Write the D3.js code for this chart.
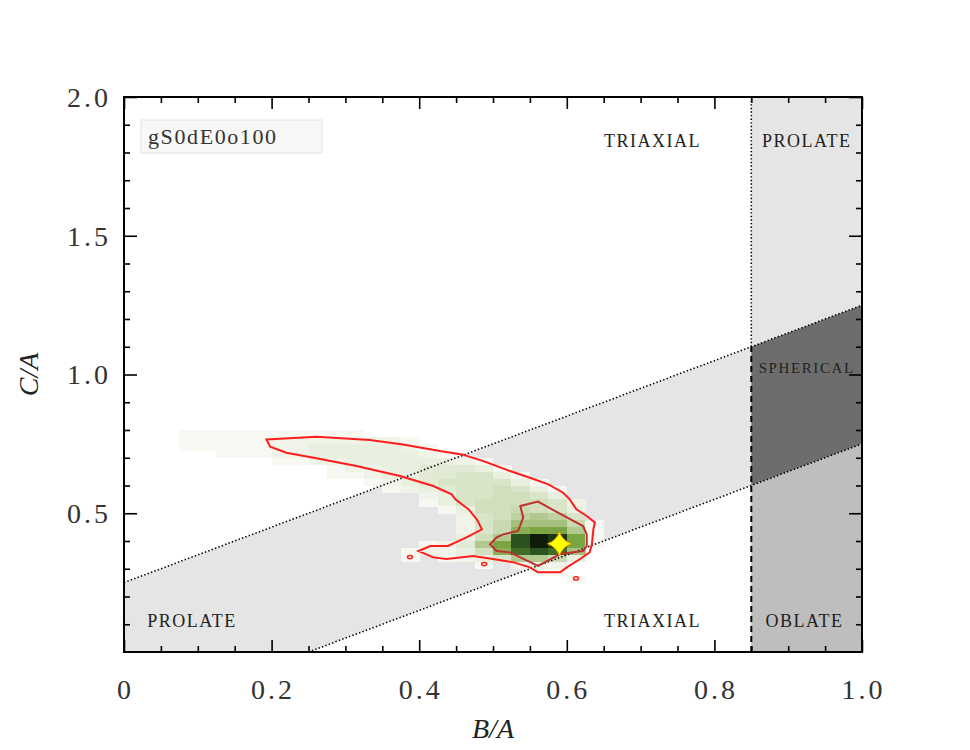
<!DOCTYPE html>
<html>
<head>
<meta charset="utf-8">
<script src="https://cdn.jsdelivr.net/npm/d3@7"></script>
<style>
    body { margin: 0; background: #fff; }
    svg { display: block; }
    .tick-label { font-family: 'Liberation Serif', serif; font-size: 28px; fill: #333; letter-spacing: 3px; }
    .axis-title { font-family: 'Liberation Serif', serif; font-size: 28px; font-style: italic; fill: #222; }
    .region-label { font-family: 'Liberation Serif', serif; fill: #222; }
</style>
</head>
<body>
<svg id="chart"></svg>
<script>
// axis ticks
const xMajorTicks = [0, 0.2, 0.4, 0.6, 0.8, 1.0];
const xTickLabels = ['0', '0.2', '0.4', '0.6', '0.8', '1.0'];
const xMinorTicks = [0.05, 0.1, 0.15, 0.25, 0.3, 0.35, 0.45, 0.5, 0.55, 0.65, 0.7, 0.75, 0.85, 0.9, 0.95];
const yMajorTicks = [0.5, 1.0, 1.5, 2.0];
const yTickLabels = ['0.5', '1.0', '1.5', '2.0'];
const yMinorTicks = [0.1, 0.2, 0.3, 0.4, 0.6, 0.7, 0.8, 0.9, 1.1, 1.2, 1.3, 1.4, 1.6, 1.7, 1.8, 1.9];

// shape classification: C/A = B/A +/- bandOffset, B/A = sphereCut
const bandOffset = 0.25;
const sphereCut = 0.85;

// density map, cells of 0.025 starting at B/A = 0.075 (left) and C/A = 0.8 (top)
const gridX0 = 0.075;
const gridYTop = 0.8;
const gridStep = 0.025;
const densityRows = [
//   0    1    2    3    4    5    6    7    8    9   10   11   12   13   14   15   16   17   18   19   20   21   22
    [1,   1,   1,   1,   1,   1,   1,   1,   1,   1,   0,   0,   0,   0,   0,   0,   0,   0,   0,   0,   0,   0,   0],
    [1,   1,   1,   1,   1,   1.5, 1.5, 1.5, 1.5, 1.5, 1.5, 1.5, 1,   0,   0,   0,   0,   0,   0,   0,   0,   0,   0],
    [1,   1,   1,   1,   1,   1.5, 1.5, 2,   2,   2,   2,   2,   1.5, 1,   0,   0,   0,   0,   0,   0,   0,   0,   0],
    [0,   0,   1,   1,   1,   1.5, 1.5, 2,   2,   2,   2,   2,   2,   1.5, 1,   0,   0,   0,   0,   0,   0,   0,   0],
    [0,   0,   0,   0,   0,   1,   1,   1.5, 1.5, 2,   2,   2,   2,   2,   2,   1.5, 1,   0,   0,   0,   0,   0,   0],
    [0,   0,   0,   0,   0,   0,   0,   0,   1,   1.5, 1.5, 2,   2,   2.5, 2.5, 2.5, 2,   1,   0,   0,   0,   0,   0],
    [0,   0,   0,   0,   0,   0,   0,   0,   1,   1,   1.5, 2,   2,   2.5, 2.5, 3,   3,   2,   1,   0,   0,   0,   0],
    [0,   0,   0,   0,   0,   0,   0,   0,   0,   0,   1,   1.5, 2,   2.5, 3,   3,   3,   3,   2,   1,   0,   0,   0],
    [0,   0,   0,   0,   0,   0,   0,   0,   0,   0,   0,   1,   1.5, 2,   2.5, 3,   3,   3.5, 3,   2,   1,   0,   0],
    [0,   0,   0,   0,   0,   0,   0,   0,   0,   0,   0,   0,   0,   1.5, 2,   3,   3,   3.5, 3.5, 3,   2,   0,   0],
    [0,   0,   0,   0,   0,   0,   0,   0,   0,   0,   0,   0,   0,   1,   2,   3,   3.5, 3.5, 3.5, 3.5, 3,   1.5, 0],
    [0,   0,   0,   0,   0,   0,   0,   0,   0,   0,   0,   0,   0,   0,   1,   2,   3.5, 3.5, 4,   3.5, 3,   2,   0],
    [0,   0,   0,   0,   0,   0,   0,   0,   0,   0,   0,   0,   0,   0,   0,   1.5, 3,   3.5, 4.5, 5,   4.5, 3,   0],
    [0,   0,   0,   0,   0,   0,   0,   0,   0,   0,   0,   0,   0,   0,   0,   1.5, 3,   4,   5.5, 5.5, 5.5, 4,   1],
    [0,   0,   0,   0,   0,   0,   0,   0,   0,   0,   0,   0,   0,   0,   0,   1.5, 3,   4,   6.5, 7,   7,   5,   1],
    [0,   0,   0,   0,   0,   0,   0,   0,   0,   0,   0,   0,   0,   0,   0,   2,   3.5, 5,   9,   10,  9.5, 7,   1],
    [0,   0,   0,   0,   0,   0,   0,   0,   0,   0,   0,   0,   0,   1,   1.5, 2.5, 5,   7,   9,   10,  9.5, 7,   1],
    [0,   0,   0,   0,   0,   0,   0,   0,   0,   0,   0,   0,   1,   1.5, 1.5, 2,   3.5, 6.5, 8.5, 9,   8.5, 5.5, 0],
    [0,   0,   0,   0,   0,   0,   0,   0,   0,   0,   0,   0,   1,   0,   1,   1.5, 2,   3,   5,   5,   4,   2,   0],
    [0,   0,   0,   0,   0,   0,   0,   0,   0,   0,   0,   0,   0,   0,   0,   0,   1,   0,   1.5, 2,   1.5, 0,   0],
    [0,   0,   0,   0,   0,   0,   0,   0,   0,   0,   0,   0,   0,   0,   0,   0,   0,   0,   0,   1,   1,   0,   0],
    [0,   0,   0,   0,   0,   0,   0,   0,   0,   0,   0,   0,   0,   0,   0,   0,   0,   0,   0,   0,   0,   1,   0]
];
const densityLevels = [1, 2, 3, 4, 5, 6, 7, 8, 9, 10];
const densityColors = ['#f6f8f1', '#e9f0df', '#d9e5c9', '#c9d9b1', '#b2c891', '#99b86d', '#7ba443', '#55852d', '#2c5220', '#0f1c0a'];

// contours traced in (B/A, C/A)
const outerContour = [
    [0.193, 0.766], [0.261, 0.776], [0.333, 0.764], [0.378, 0.748], [0.428, 0.724], [0.458, 0.712],
    [0.487, 0.688], [0.523, 0.652], [0.550, 0.628], [0.575, 0.604], [0.595, 0.574], [0.604, 0.550],
    [0.613, 0.514], [0.627, 0.490], [0.638, 0.467], [0.636, 0.442], [0.634, 0.388], [0.631, 0.359],
    [0.618, 0.335], [0.600, 0.305], [0.591, 0.287], [0.561, 0.287], [0.550, 0.305], [0.528, 0.323],
    [0.500, 0.335], [0.473, 0.346], [0.437, 0.335], [0.419, 0.341], [0.399, 0.364], [0.415, 0.382],
    [0.439, 0.382], [0.464, 0.413], [0.485, 0.442], [0.478, 0.478], [0.467, 0.514], [0.449, 0.550],
    [0.444, 0.568], [0.419, 0.598], [0.374, 0.634], [0.315, 0.670], [0.257, 0.700], [0.220, 0.718],
    [0.198, 0.740]
];
const innerContour = [
    [0.537, 0.526], [0.561, 0.542], [0.580, 0.514], [0.600, 0.485], [0.622, 0.454], [0.627, 0.424],
    [0.627, 0.382], [0.622, 0.364], [0.591, 0.353], [0.561, 0.310], [0.523, 0.359], [0.505, 0.364],
    [0.496, 0.388], [0.505, 0.413], [0.514, 0.424], [0.534, 0.436], [0.541, 0.485]
];
const contourSpots = [[0.3875, 0.342], [0.488, 0.317], [0.6125, 0.265]];
const peakPoint = [0.59, 0.39];

const regionLabels = [
    {text: 'TRIAXIAL', bx: 0.715, cy: 1.84, size: 18, spacing: 1.5},
    {text: 'PROLATE', bx: 0.924, cy: 1.84, size: 18, spacing: 1.5},
    {text: 'SPHERICAL', bx: 0.924, cy: 1.025, size: 15, spacing: 1.6},
    {text: 'PROLATE', bx: 0.091, cy: 0.11, size: 18, spacing: 1.5},
    {text: 'TRIAXIAL', bx: 0.715, cy: 0.11, size: 18, spacing: 1.5},
    {text: 'OBLATE', bx: 0.921, cy: 0.11, size: 18, spacing: 1.5}
];
const runName = 'gS0dE0o100';

class ShapePlot {
    constructor(_config) {
        this.config = {
            parentElement: _config.parentElement,
            containerWidth: _config.containerWidth || 970,
            containerHeight: _config.containerHeight || 750,
            margin: {top: 97, right: 108, bottom: 98, left: 124}
        };
        this.initVis();
    }

    initVis() {
        let vis = this;
        vis.width = vis.config.containerWidth - vis.config.margin.left - vis.config.margin.right;
        vis.height = vis.config.containerHeight - vis.config.margin.top - vis.config.margin.bottom;

        vis.svg = d3.select(vis.config.parentElement)
            .attr('width', vis.config.containerWidth)
            .attr('height', vis.config.containerHeight);

        vis.chart = vis.svg.append('g')
            .attr('transform', `translate(${vis.config.margin.left},${vis.config.margin.top})`);

        vis.xScale = d3.scaleLinear().domain([0, 1.0]).range([0, vis.width]);
        vis.yScale = d3.scaleLinear().domain([0, 2.0]).range([vis.height, 0]);
        vis.colorScale = d3.scaleLinear().domain(densityLevels).range(densityColors).clamp(true);

        vis.svg.append('clipPath').attr('id', 'plot-clip')
            .append('rect').attr('width', vis.width).attr('height', vis.height);

        vis.renderVis();
    }

    renderVis() {
        let vis = this;
        const x = vis.xScale, y = vis.yScale;
        const poly = pts => 'M' + pts.map(p => `${x(p[0])},${y(p[1])}`).join('L') + 'Z';

        // classification regions
        const regions = vis.chart.append('g').attr('clip-path', 'url(#plot-clip)');
        regions.append('path')
            .attr('d', poly([[0, bandOffset], [sphereCut, sphereCut + bandOffset], [sphereCut, sphereCut - bandOffset], [bandOffset, 0], [0, 0]]))
            .attr('fill', '#e5e5e5');
        regions.append('path')
            .attr('d', poly([[sphereCut, 2], [1, 2], [1, 1 + bandOffset], [sphereCut, sphereCut + bandOffset]]))
            .attr('fill', '#e5e5e5');
        regions.append('path')
            .attr('d', poly([[sphereCut, sphereCut + bandOffset], [1, 1 + bandOffset], [1, 1 - bandOffset], [sphereCut, sphereCut - bandOffset]]))
            .attr('fill', '#6d6d6d');
        regions.append('path')
            .attr('d', poly([[sphereCut, sphereCut - bandOffset], [1, 1 - bandOffset], [1, 0], [sphereCut, 0]]))
            .attr('fill', '#bebebe');

        // density cells
        const cells = [];
        densityRows.forEach((row, r) => row.forEach((v, c) => {
            if (v > 0) cells.push({bx: gridX0 + c * gridStep, cy: gridYTop - r * gridStep, v: v});
        }));
        vis.chart.append('g')
            .selectAll('rect')
            .data(cells)
            .enter()
            .append('rect')
                .attr('x', d => x(d.bx))
                .attr('y', d => y(d.cy))
                .attr('width', x(gridStep) - x(0) + 0.4)
                .attr('height', y(0) - y(gridStep) + 0.4)
                .attr('fill', d => vis.colorScale(d.v))
                .attr('shape-rendering', 'crispEdges');

        // boundary lines
        const lines = vis.chart.append('g').attr('clip-path', 'url(#plot-clip)')
            .attr('fill', 'none').attr('stroke', '#000');
        lines.append('line')
            .attr('x1', x(0)).attr('y1', y(bandOffset)).attr('x2', x(1)).attr('y2', y(1 + bandOffset))
            .attr('stroke-width', 1.6).attr('stroke-dasharray', '1.4,2.2');
        lines.append('line')
            .attr('x1', x(bandOffset)).attr('y1', y(0)).attr('x2', x(1)).attr('y2', y(1 - bandOffset))
            .attr('stroke-width', 1.6).attr('stroke-dasharray', '1.4,2.2');
        lines.append('line')
            .attr('x1', x(sphereCut)).attr('y1', y(0)).attr('x2', x(sphereCut)).attr('y2', y(sphereCut + bandOffset))
            .attr('stroke-width', 2).attr('stroke-dasharray', '6,4');
        lines.append('line')
            .attr('x1', x(sphereCut)).attr('y1', y(sphereCut + bandOffset)).attr('x2', x(sphereCut)).attr('y2', y(2))
            .attr('stroke-width', 1.6).attr('stroke-dasharray', '1.4,2.2');

        // contours
        const contourLine = d3.line().x(d => x(d[0])).y(d => y(d[1])).curve(d3.curveLinearClosed);
        vis.chart.append('path')
            .attr('d', contourLine(outerContour))
            .attr('fill', 'none').attr('stroke', '#ff1c1c').attr('stroke-width', 2);
        vis.chart.append('path')
            .attr('d', contourLine(innerContour))
            .attr('fill', 'none').attr('stroke', '#c0302c').attr('stroke-width', 2);
        vis.chart.append('g')
            .selectAll('ellipse')
            .data(contourSpots)
            .enter()
            .append('ellipse')
                .attr('cx', d => x(d[0]))
                .attr('cy', d => y(d[1]))
                .attr('rx', 2.5).attr('ry', 1.6)
                .attr('fill', 'none').attr('stroke', '#ff1c1c').attr('stroke-width', 1.5);

        // peak marker
        const r = 12, k = 3;
        vis.chart.append('path')
            .attr('transform', `translate(${x(peakPoint[0])},${y(peakPoint[1])})`)
            .attr('d', `M0,${-r}Q${k},${-k} ${r},0Q${k},${k} 0,${r}Q${-k},${k} ${-r},0Q${-k},${-k} 0,${-r}Z`)
            .attr('fill', '#ffff00').attr('stroke', '#e89a00').attr('stroke-width', 1);

        // region labels
        vis.chart.append('g')
            .selectAll('text')
            .data(regionLabels)
            .enter()
            .append('text')
                .attr('class', 'region-label')
                .attr('x', d => x(d.bx) + d.spacing / 2)
                .attr('y', d => y(d.cy))
                .attr('text-anchor', 'middle')
                .attr('dominant-baseline', 'central')
                .style('font-size', d => d.size + 'px')
                .style('letter-spacing', d => d.spacing + 'px')
                .text(d => d.text);

        // run name box
        vis.chart.append('rect')
            .attr('x', 17).attr('y', 23).attr('width', 181).attr('height', 33)
            .attr('fill', '#f8f8f8').attr('stroke', '#e2e2e2').attr('stroke-width', 1);
        vis.chart.append('text')
            .attr('x', 24).attr('y', 47)
            .attr('font-family', "'Liberation Serif', serif").attr('font-size', 22)
            .attr('fill', '#333').attr('letter-spacing', 1.6)
            .text(runName);

        // ticks on all four sides, pointing inward
        const addTicks = (axis, values, size, transform) => {
            const g = vis.chart.append('g')
                .attr('transform', transform)
                .call(axis.tickValues(values).tickSize(-size).tickFormat(''));
            g.select('.domain').remove();
            g.selectAll('line').attr('stroke', '#000').attr('stroke-width', 1.6);
        };
        addTicks(d3.axisBottom(x), xMajorTicks, 12, `translate(0,${vis.height})`);
        addTicks(d3.axisBottom(x), xMinorTicks, 6, `translate(0,${vis.height})`);
        addTicks(d3.axisTop(x), xMajorTicks, 12, 'translate(0,0)');
        addTicks(d3.axisTop(x), xMinorTicks, 6, 'translate(0,0)');
        addTicks(d3.axisLeft(y), yMajorTicks, 13, 'translate(0,0)');
        addTicks(d3.axisLeft(y), yMinorTicks, 6, 'translate(0,0)');
        addTicks(d3.axisRight(y), yMajorTicks, 13, `translate(${vis.width},0)`);
        addTicks(d3.axisRight(y), yMinorTicks, 6, `translate(${vis.width},0)`);

        vis.chart.append('rect')
            .attr('width', vis.width).attr('height', vis.height)
            .attr('fill', 'none').attr('stroke', '#000').attr('stroke-width', 2);

        // tick labels
        vis.chart.append('g')
            .selectAll('text')
            .data(xMajorTicks)
            .enter()
            .append('text')
                .attr('class', 'tick-label')
                .attr('x', d => x(d) + 1.5)
                .attr('y', vis.height + 47)
                .attr('text-anchor', 'middle')
                .text((d, i) => xTickLabels[i]);
        vis.chart.append('g')
            .selectAll('text')
            .data(yMajorTicks)
            .enter()
            .append('text')
                .attr('class', 'tick-label')
                .attr('x', -13)
                .attr('y', d => y(d))
                .attr('dy', '0.35em')
                .attr('text-anchor', 'end')
                .text((d, i) => yTickLabels[i]);

        // axis titles
        vis.chart.append('text')
            .attr('class', 'axis-title')
            .attr('x', vis.width / 2)
            .attr('y', vis.height + 86)
            .attr('text-anchor', 'middle')
            .text('B/A');
        vis.chart.append('text')
            .attr('class', 'axis-title')
            .attr('transform', `translate(-86,${vis.height / 2}) rotate(-90)`)
            .attr('text-anchor', 'middle')
            .text('C/A');
    }
}

new ShapePlot({parentElement: '#chart'});
</script>
</body>
</html>
